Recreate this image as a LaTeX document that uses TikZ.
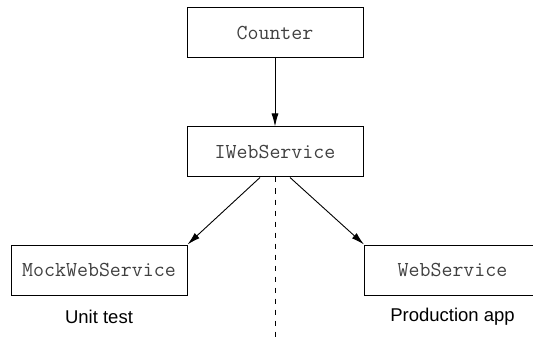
\documentclass[tikz,border=0pt]{standalone}
\usepackage{fontspec}
\setsansfont{Liberation Sans}
\usetikzlibrary{arrows.meta}

\begin{document}
\begin{tikzpicture}[x=1pt,y=-1pt,
  classbox/.style={draw=black,line width=1pt,minimum width=176pt,minimum height=50pt,
    inner sep=0pt,font=\fontsize{21.3}{24}\ttfamily,text=black!75},
  caption/.style={inner sep=0pt,font=\fontsize{18.5}{22}\sffamily},
  link/.style={line width=0.9pt,-{Latex[length=13pt,width=7pt]}}]
\useasboundingbox (0,0) rectangle (533,342);
\clip (0,0) rectangle (533,342);
\node [classbox] (counter) at (275,33) {Counter};
\node [classbox] (iws) at (275,152) {IWebService};
\node [classbox] (mock) at (99,270) {MockWebService};
\node [classbox] (web) at (452.5,270) {WebService};
\node [caption] (unit) at (99,317) {Unit test};
\node [caption] (prod) at (452.5,317) {Production app};
\coordinate (bottom) at (275,342);
\draw [link] (counter) -- (iws);
\draw [link] ([xshift=-15pt]iws.south) -- (mock.north east);
\draw [link] ([xshift=15pt]iws.south) -- (web.north west);
\draw [line width=1pt,dash pattern=on 5pt off 6pt] (iws.south) -- (bottom);
\end{tikzpicture}
\end{document}
